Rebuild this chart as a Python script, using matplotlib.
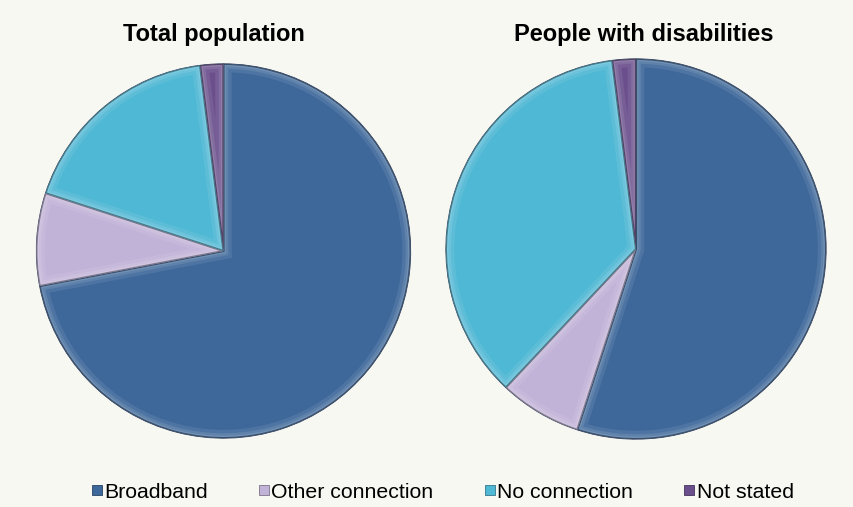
import matplotlib
matplotlib.use("Agg")
import matplotlib.pyplot as plt
from matplotlib.patches import Wedge
from matplotlib.lines import Line2D
import matplotlib.colors as mcolors
import numpy as np

categories = ["Broadband", "Other connection", "No connection", "Not stated"]
total_population = [72, 8, 18, 2]
people_with_disabilities = [55, 7, 36, 2]
titles = ["Total population", "People with disabilities"]

colors = ["#3e689a", "#c1b2d7", "#4fb8d4", "#6a4f8c"]
bg = "#f7f8f2"

plt.rcParams["font.family"] = ["Liberation Sans", "DejaVu Sans"]

W, H = 854, 507
fig = plt.figure(figsize=(W / 100, H / 100), dpi=100, facecolor=bg)


def px_axes(cx, cy, r):
    return fig.add_axes([(cx - r) / W, (H - cy - r) / H, 2 * r / W, 2 * r / H])


def shade(c, f):
    rgb = np.array(mcolors.to_rgb(c))
    if f > 0:
        rgb = rgb + (1 - rgb) * f
    else:
        rgb = rgb * (1 + f)
    return tuple(np.clip(rgb, 0, 1))


def bevel_pie(ax, values, title, title_x):
    ax.set_facecolor(bg)
    wedges, _ = ax.pie(values, colors=colors, startangle=90, counterclock=False,
                       radius=1.0, wedgeprops=dict(edgecolor="#2a3550",
                                                   linewidth=0.7))
    for w, c in zip(wedges, colors):
        # soft light rim inside each slice for a raised, bevelled look
        for lw, a in [(12, 0.18), (7, 0.25), (3.5, 0.35)]:
            hi = Wedge(w.center, w.r, w.theta1, w.theta2, fill=False,
                       edgecolor=shade(c, 0.45), linewidth=lw, alpha=a)
            hi.set_clip_path(w)
            ax.add_patch(hi)
        sh = Wedge(w.center, w.r, w.theta1, w.theta2, fill=False,
                   edgecolor=shade(c, -0.45), linewidth=1.6, alpha=0.7)
        sh.set_clip_path(w)
        ax.add_patch(sh)
    ax.set_xlim(-1.01, 1.01)
    ax.set_ylim(-1.01, 1.01)
    ax.set_aspect("equal")
    ax.axis("off")
    fig.text(title_x / W, 1 - 35 / H, title, ha="center", va="center",
             fontsize=17, fontweight="bold", color="black")


ax1 = px_axes(223.5, 251, 189)
bevel_pie(ax1, total_population, titles[0], 214)
ax2 = px_axes(636, 249, 192)
bevel_pie(ax2, people_with_disabilities, titles[1], 644)

handles = [Line2D([], [], marker="s", linestyle="none", markersize=7,
                  markerfacecolor=c, markeredgecolor=shade(c, -0.35),
                  markeredgewidth=0.6) for c in colors]
fig.legend(handles, categories, loc="center", bbox_to_anchor=(442 / W, 1 - 492 / H),
           ncol=4, frameon=False, fontsize=15.3, handlelength=0.6, handletextpad=0.05,
           columnspacing=2.35, borderaxespad=0)

fig.savefig("out.png", dpi=100, facecolor=bg)
